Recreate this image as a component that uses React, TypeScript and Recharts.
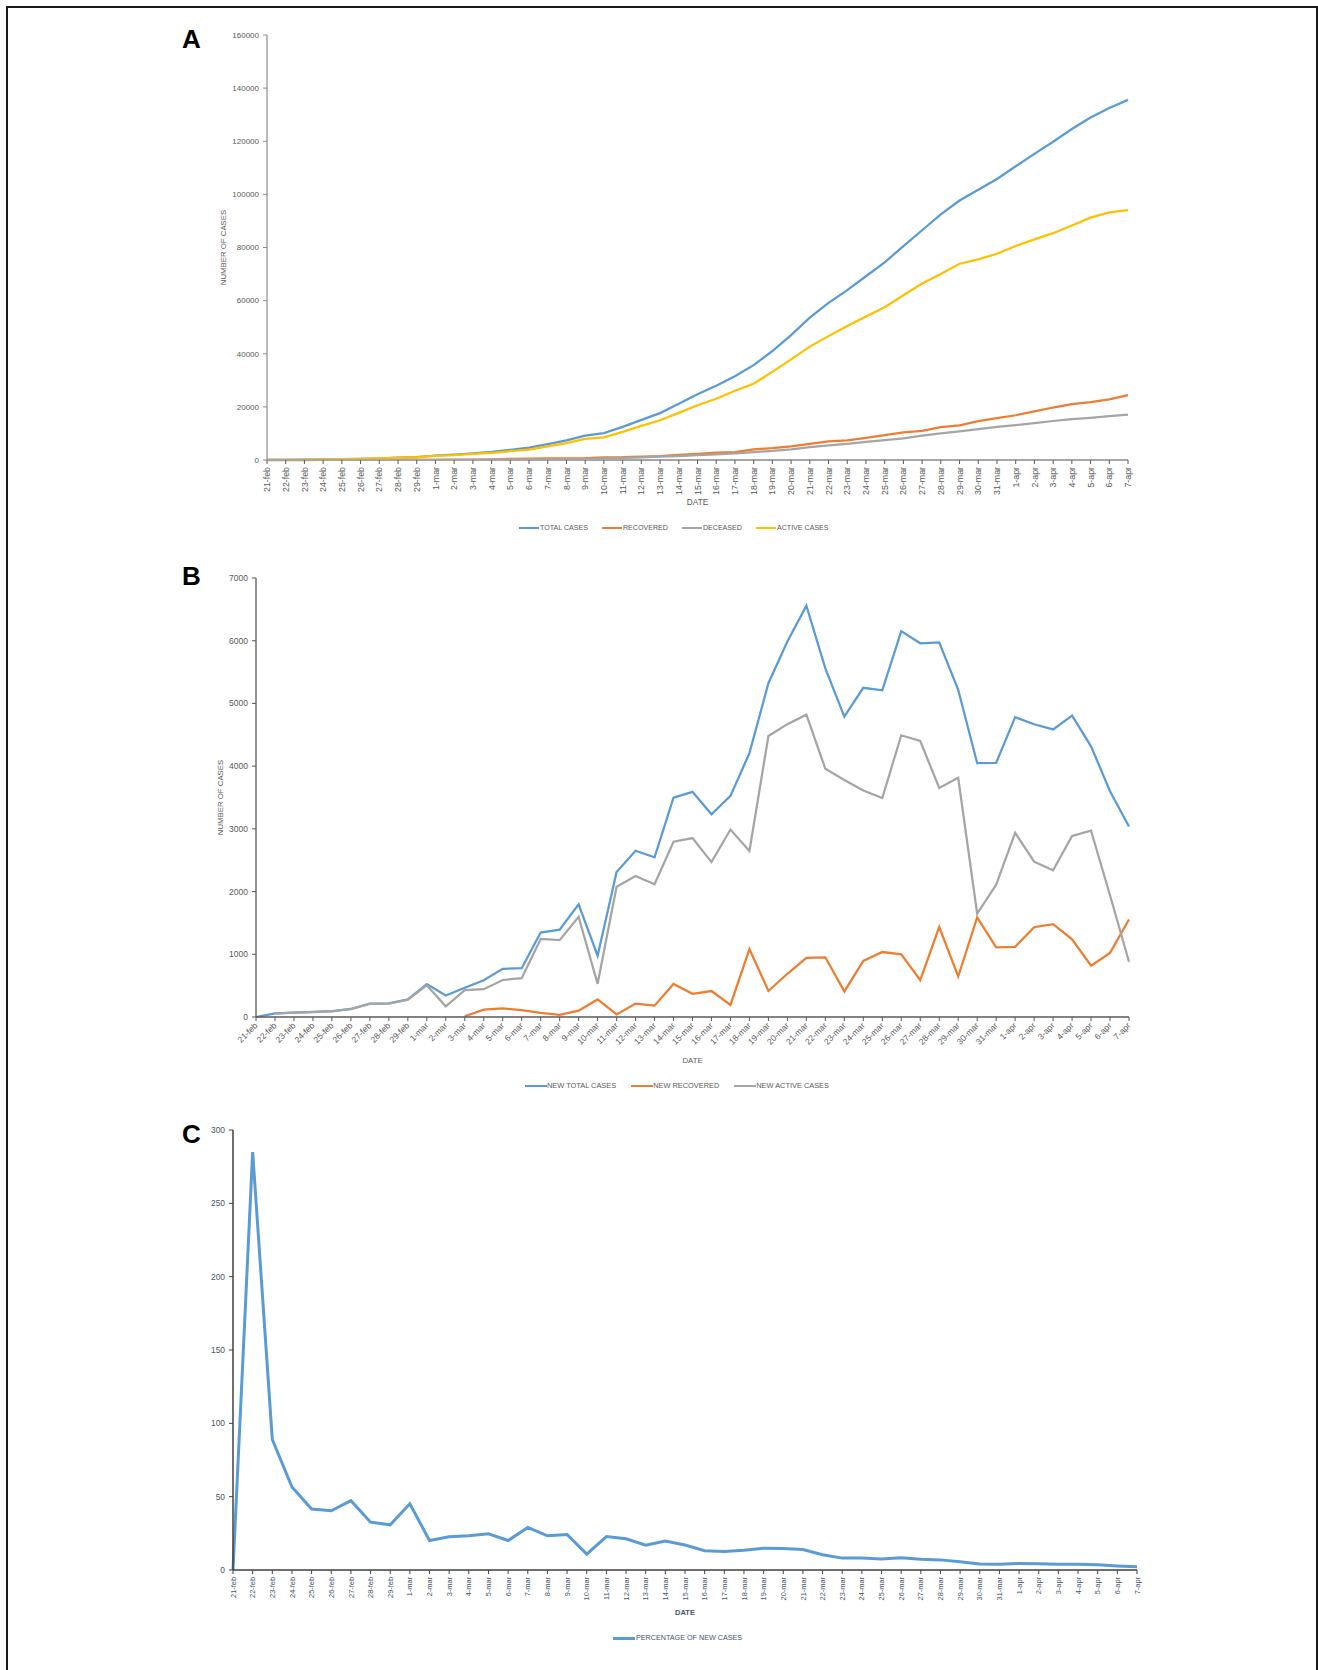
import React from 'react';
import { LineChart, Line, XAxis, YAxis, Legend } from 'recharts';

const dates = [
  '21-feb', '22-feb', '23-feb', '24-feb', '25-feb', '26-feb', '27-feb', '28-feb', '29-feb',
  '1-mar', '2-mar', '3-mar', '4-mar', '5-mar', '6-mar', '7-mar', '8-mar', '9-mar', '10-mar',
  '11-mar', '12-mar', '13-mar', '14-mar', '15-mar', '16-mar', '17-mar', '18-mar', '19-mar', '20-mar',
  '21-mar', '22-mar', '23-mar', '24-mar', '25-mar', '26-mar', '27-mar', '28-mar', '29-mar', '30-mar', '31-mar',
  '1-apr', '2-apr', '3-apr', '4-apr', '5-apr', '6-apr', '7-apr',
];

// Panel A – cumulative
const totalCases = [
  20, 77, 146, 229, 322, 453, 655, 888, 1128,
  1694, 2036, 2502, 3089, 3858, 4636, 5983, 7375, 9172, 10149,
  12462, 15113, 17660, 21157, 24747, 27980, 31506, 35713, 41035, 47021,
  53578, 59138, 63927, 69176, 74386, 80539, 86498, 92472, 97689, 101739, 105792,
  110574, 115242, 119827, 124632, 128948, 132547, 135586,
];
const recovered = [
  0, 0, 0, 1, 1, 3, 45, 46, 46,
  83, 149, 160, 276, 414, 523, 589, 622, 724, 1004,
  1045, 1258, 1439, 1966, 2335, 2749, 2941, 4025, 4440, 5129,
  6072, 7024, 7432, 8326, 9362, 10361, 10950, 12384, 13030, 14620, 15729,
  16847, 18278, 19758, 20996, 21815, 22837, 24392,
];
const deceased = [
  1, 2, 3, 7, 10, 12, 17, 21, 29,
  34, 52, 79, 107, 148, 197, 233, 366, 463, 631,
  827, 1016, 1266, 1441, 1809, 2158, 2503, 2978, 3405, 4032,
  4825, 5476, 6077, 6820, 7503, 8165, 9134, 10023, 10779, 11591, 12428,
  13155, 13915, 14681, 15362, 15887, 16523, 17127,
];
const activeCases = [
  19, 75, 143, 221, 311, 438, 593, 821, 1049,
  1577, 1835, 2263, 2706, 3296, 3916, 5161, 6387, 7985, 8514,
  10590, 12839, 14955, 17750, 20603, 23073, 26062, 28710, 33190, 37860,
  42681, 46638, 50418, 54030, 57521, 62013, 66414, 70065, 73880, 75528, 77635,
  80572, 83049, 85388, 88274, 91246, 93187, 94067,
];

// Panel B – daily
const newTotal = [
  0, 57, 70, 80, 93, 128, 215, 216, 280,
  526, 342, 466, 587, 769, 778, 1347, 1392, 1797, 977,
  2313, 2651, 2547, 3497, 3590, 3233, 3526, 4207, 5322, 5986,
  6557, 5560, 4789, 5249, 5210, 6153, 5959, 5974, 5217, 4050, 4053,
  4782, 4668, 4585, 4805, 4316, 3599, 3039,
];
const newRecovered = [
  null, null, null, null, null, null, null, null, null,
  null, null, 11, 116, 138, 109, 66, 33, 102, 280,
  41, 213, 181, 527, 369, 414, 192, 1084, 415, 689,
  943, 952, 408, 894, 1036, 999, 589, 1434, 646, 1590, 1109,
  1118, 1431, 1480, 1238, 819, 1022, 1555,
];
const newActive = [
  null, 55, 68, 78, 90, 125, 210, 212, 275,
  505, 170, 428, 443, 590, 620, 1245, 1226, 1598, 529,
  2076, 2249, 2116, 2795, 2853, 2470, 2989, 2648, 4480, 4670,
  4821, 3957, 3780, 3612, 3491, 4492, 4401, 3651, 3815, 1648, 2107,
  2937, 2477, 2339, 2886, 2972, 1941, 880,
];

// Panel C – percentage
const pctNew = [
  0, 285, 89, 56.6, 41.6, 40.4, 47.3, 32.6, 30.8,
  45.2, 20.1, 22.6, 23.3, 24.7, 20.1, 29.0, 23.3, 24.2, 10.8,
  22.8, 21.3, 16.9, 19.8, 17.0, 13.1, 12.6, 13.4, 14.9, 14.6,
  13.9, 10.4, 8.1, 8.2, 7.5, 8.3, 7.4, 6.9, 5.6, 4.1, 4.0,
  4.5, 4.2, 4.0, 4.0, 3.5, 2.8, 2.3,
];

const ticksA = [0, 20000, 40000, 60000, 80000, 100000, 120000, 140000, 160000];
const ticksB = [0, 1000, 2000, 3000, 4000, 5000, 6000, 7000];
const ticksC = [0, 50, 100, 150, 200, 250, 300];

const namesA = ['TOTAL CASES', 'RECOVERED', 'DECEASED', 'ACTIVE CASES'];
const namesB = ['NEW TOTAL CASES', 'NEW RECOVERED', 'NEW ACTIVE CASES'];
const namesC = ['PERCENTAGE OF NEW CASES'];

const dataA = dates.map((d, i) => ({ date: d, total: totalCases[i], recovered: recovered[i], deceased: deceased[i], active: activeCases[i] }));
const dataB = dates.map((d, i) => ({ date: d, newTotal: newTotal[i], newRecovered: newRecovered[i], newActive: newActive[i] }));
const dataC = dates.map((d, i) => ({ date: d, pct: pctNew[i] }));

const FONT = "'Liberation Sans', Arial, sans-serif";
const BLUE = '#5B9BD5';
const ORANGE = '#ED7D31';
const GRAY = '#A5A5A5';
const YELLOW = '#FFC000';

const RotTick = (props: any) => {
  const { x, y, payload, angle, fontSize, fill } = props;
  return (
    <g transform={`translate(${x},${y})`}>
      <text x={0} y={0} dy="0.35em" transform={`rotate(${angle})`} textAnchor="end" fontSize={fontSize} fill={fill} fontFamily={FONT}>
        {payload.value}
      </text>
    </g>
  );
};

const YTitle = (dx: number, color: string, size: number) => (props: any) => {
  const vb = props.viewBox;
  const cx = vb.x + dx;
  const cy = vb.y + vb.height / 2;
  return (
    <text x={cx} y={cy} transform={`rotate(-90 ${cx} ${cy})`} textAnchor="middle" dominantBaseline="central" fontSize={size} fill={color} fontFamily={FONT}>
      NUMBER OF CASES
    </text>
  );
};

const XTitle = (dy: number, color: string, size: number, bold: boolean) => (props: any) => {
  const vb = props.viewBox;
  const cx = vb.x + vb.width / 2;
  const cy = vb.y + dy;
  return (
    <text x={cx} y={cy} textAnchor="middle" dominantBaseline="central" fontSize={size} fill={color} fontFamily={FONT} fontWeight={bold ? 'bold' : 'normal'}>
      DATE
    </text>
  );
};

const makeLegend = (order: string[], lineW: number, lineH: number, gap: number, textGap: number, fontSize: number, color: string) => (props: any) => {
  const payload = [...(props.payload || [])].sort((a: any, b: any) => order.indexOf(a.value) - order.indexOf(b.value));
  return (
    <div style={{ display: 'flex', alignItems: 'center', fontFamily: FONT, fontSize, color, whiteSpace: 'nowrap', lineHeight: '12px' }}>
      {payload.map((p: any, i: number) => (
        <div key={i} style={{ display: 'flex', alignItems: 'center', marginRight: gap }}>
          <span style={{ display: 'inline-block', width: lineW, height: lineH, background: p.color, marginRight: textGap }} />
          <span>{p.value}</span>
        </div>
      ))}
    </div>
  );
};

const letterStyle = (top: number): React.CSSProperties => ({
  position: 'absolute',
  left: 182,
  top,
  fontFamily: "'Liberation Sans', Arial, sans-serif",
  fontWeight: 'bold',
  fontSize: 26,
  lineHeight: '26px',
  color: '#000',
});

export default function App() {
  const textA = '#595959';
  const textC = '#44546A';
  return (
    <div style={{ position: 'absolute', left: 0, top: 0, width: 1318, height: 1670, overflow: 'hidden', background: '#fff' }}>
      {/* frame */}
      <div style={{ position: 'absolute', left: 6, top: 6, width: 1312, height: 1664, boxSizing: 'border-box', borderLeft: '2px solid #1a1a1a', borderTop: '2px solid #1a1a1a', borderRight: '2px solid #1a1a1a' }} />

      {/* Panel A */}
      <div style={{ position: 'absolute', left: 0, top: 0 }}>
        <LineChart width={1318} height={545} data={dataA} margin={{ top: 35, right: 190, left: 207, bottom: 40 }}>
          <XAxis
            dataKey="date"
            interval={0}
            height={45}
            tickSize={4}
            tickMargin={3}
            axisLine={{ stroke: '#a6a6a6', strokeWidth: 2 }}
            tickLine={{ stroke: '#595959' }}
            tick={(p: any) => <RotTick {...p} angle={-90} fontSize={8.8} fill={textA} />}
            label={{ content: XTitle(42, textA, 8.3, false) } as any}
          />
          <YAxis
            width={60}
            domain={[0, 160000]}
            ticks={ticksA}
            interval={0}
            tickSize={4}
            tickMargin={4}
            axisLine={{ stroke: '#8c8c8c', strokeWidth: 1.2 }}
            tickLine={{ stroke: '#8c8c8c' }}
            tick={{ fontSize: 8, fill: textA, fontFamily: FONT }}
            label={{ content: YTitle(16, textA, 7.8) } as any}
          />
          <Line type="linear" dataKey="total" name="TOTAL CASES" stroke={BLUE} strokeWidth={2.25} dot={false} isAnimationActive={false} />
          <Line type="linear" dataKey="recovered" name="RECOVERED" stroke={ORANGE} strokeWidth={2.25} dot={false} isAnimationActive={false} />
          <Line type="linear" dataKey="deceased" name="DECEASED" stroke={GRAY} strokeWidth={2.25} dot={false} isAnimationActive={false} />
          <Line type="linear" dataKey="active" name="ACTIVE CASES" stroke={YELLOW} strokeWidth={2.25} dot={false} isAnimationActive={false} />
          <Legend
            layout="horizontal"
            verticalAlign="middle"
            align="center"
            content={makeLegend(namesA, 20, 2.5, 14, 1, 7.1, textA)}
            wrapperStyle={{ left: 519, top: 522, width: 400, height: 12 }}
          />
        </LineChart>
      </div>
      <div style={letterStyle(26)}>A</div>

      {/* Panel B */}
      <div style={{ position: 'absolute', left: 0, top: 545 }}>
        <LineChart width={1318} height={555} data={dataB} margin={{ top: 33, right: 189, left: 196, bottom: 38 }}>
          <XAxis
            dataKey="date"
            interval={0}
            height={45}
            tickSize={4}
            tickMargin={3}
            axisLine={{ stroke: '#595959', strokeWidth: 1.3 }}
            tickLine={{ stroke: '#595959' }}
            tick={(p: any) => <RotTick {...p} angle={-45} fontSize={8.5} fill={textA} />}
            label={{ content: XTitle(43, textA, 7.8, false) } as any}
          />
          <YAxis
            width={60}
            domain={[0, 7000]}
            ticks={ticksB}
            interval={0}
            tickSize={4}
            tickMargin={4}
            axisLine={{ stroke: '#595959', strokeWidth: 1.3 }}
            tickLine={{ stroke: '#595959' }}
            tick={{ fontSize: 8.5, fill: textA, fontFamily: FONT }}
            label={{ content: YTitle(24, textA, 7.8) } as any}
          />
          <Line type="linear" dataKey="newTotal" name="NEW TOTAL CASES" stroke={BLUE} strokeWidth={2.25} dot={false} isAnimationActive={false} />
          <Line type="linear" dataKey="newRecovered" name="NEW RECOVERED" stroke={ORANGE} strokeWidth={2.25} dot={false} isAnimationActive={false} />
          <Line type="linear" dataKey="newActive" name="NEW ACTIVE CASES" stroke={GRAY} strokeWidth={2.25} dot={false} isAnimationActive={false} />
          <Legend
            layout="horizontal"
            verticalAlign="middle"
            align="center"
            content={makeLegend(namesB, 22, 2.5, 15, 0, 7.4, textA)}
            wrapperStyle={{ left: 525, top: 535, width: 400, height: 12 }}
          />
        </LineChart>
      </div>
      <div style={letterStyle(563)}>B</div>

      {/* Panel C */}
      <div style={{ position: 'absolute', left: 0, top: 1100 }}>
        <LineChart width={1318} height={570} data={dataC} margin={{ top: 30, right: 181, left: 183, bottom: 50 }}>
          <XAxis
            dataKey="date"
            interval={0}
            height={50}
            tickSize={4}
            tickMargin={3}
            axisLine={{ stroke: '#404040', strokeWidth: 1.5 }}
            tickLine={{ stroke: '#404040' }}
            tick={(p: any) => <RotTick {...p} angle={-90} fontSize={7.4} fill={textC} />}
            label={{ content: XTitle(42, textC, 7.5, true) } as any}
          />
          <YAxis
            width={50}
            domain={[0, 300]}
            ticks={ticksC}
            interval={0}
            tickSize={4}
            tickMargin={4}
            axisLine={{ stroke: '#404040', strokeWidth: 1.5 }}
            tickLine={{ stroke: '#404040' }}
            tick={{ fontSize: 8.4, fill: textC, fontFamily: FONT }}
          />
          <Line type="linear" dataKey="pct" name="PERCENTAGE OF NEW CASES" stroke={BLUE} strokeWidth={3} dot={false} isAnimationActive={false} />
          <Legend
            layout="horizontal"
            verticalAlign="middle"
            align="center"
            content={makeLegend(namesC, 22, 3, 0, 1, 7.2, textC)}
            wrapperStyle={{ left: 613, top: 532, width: 300, height: 12 }}
          />
        </LineChart>
      </div>
      <div style={letterStyle(1121)}>C</div>
    </div>
  );
}
